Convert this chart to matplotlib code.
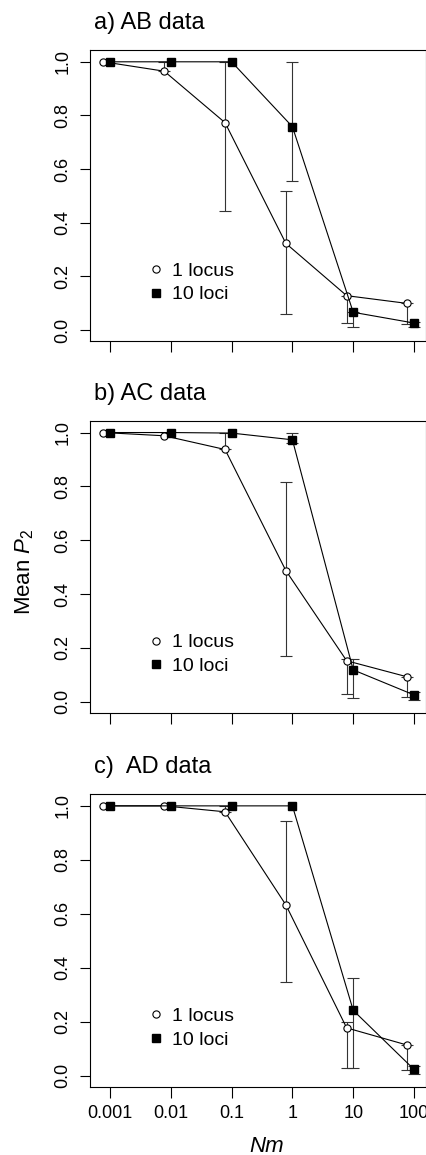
import numpy as np
import matplotlib
matplotlib.use('Agg')
import matplotlib.pyplot as plt
from matplotlib.lines import Line2D
from matplotlib.ticker import FixedLocator, NullLocator

plt.rcParams['font.family'] = ['Liberation Sans', 'DejaVu Sans']
plt.rcParams['mathtext.fontset'] = 'custom'
plt.rcParams['mathtext.rm'] = 'Liberation Sans'
plt.rcParams['mathtext.it'] = 'Liberation Sans:italic'

# Nm values (x axis)
nm = [0.001, 0.01, 0.1, 1, 10, 100]
nmLabels = ['0.001', '0.01', '0.1', '1', '10', '100']
titles = ['a) AB data', 'b) AC data', 'c)  AD data']

# a) AB data
oneA = [1.0, 0.965, 0.773, 0.323, 0.128, 0.099]
oneLoA = [1.0, 0.965, 0.445, 0.06, 0.027, 0.022]
oneHiA = [1.0, 1.0, 1.0, 0.52, 0.128, 0.099]
tenA = [1.0, 1.0, 1.0, 0.758, 0.066, 0.026]
tenLoA = [1.0, 1.0, 1.0, 0.554, 0.012, 0.01]
tenHiA = [1.0, 1.0, 1.0, 1.0, 0.066, 0.03]

# b) AC data
oneB = [1.0, 0.988, 0.937, 0.487, 0.152, 0.092]
oneLoB = [1.0, 0.988, 0.937, 0.168, 0.028, 0.016]
oneHiB = [1.0, 0.988, 1.0, 0.816, 0.16, 0.092]
tenB = [1.0, 1.0, 0.998, 0.973, 0.118, 0.025]
tenLoB = [1.0, 1.0, 0.998, 0.96, 0.013, 0.008]
tenHiB = [1.0, 1.0, 0.998, 1.0, 0.16, 0.035]

# c) AD data
oneC = [1.0, 1.0, 0.978, 0.633, 0.177, 0.113]
oneLoC = [1.0, 1.0, 0.978, 0.346, 0.03, 0.022]
oneHiC = [1.0, 1.0, 1.0, 0.944, 0.2, 0.113]
tenC = [1.0, 1.0, 1.0, 1.0, 0.242, 0.023]
tenLoC = [1.0, 1.0, 1.0, 1.0, 0.03, 0.006]
tenHiC = [1.0, 1.0, 1.0, 1.0, 0.362, 0.035]


def drawBars(ax, x, mean, lo, hi):
    """Draws error bars only where the interval has some length"""
    x = np.asarray(x, dtype=float)
    mean = np.asarray(mean)
    lo = np.asarray(lo)
    hi = np.asarray(hi)
    keep = (hi - lo) > 0.002
    ax.errorbar(x[keep], mean[keep], yerr=[mean[keep] - lo[keep], hi[keep] - mean[keep]],
                fmt='none', ecolor='#333333', elinewidth=0.8, capsize=4, capthick=0.8, zorder=2)


def plotPanel(ax, title, one, oneLo, oneHi, ten, tenLo, tenHi, showLabels):
    """Plots one panel: 1 locus (open circles, dodged left) and 10 loci (filled squares)"""
    xOne = np.array(nm) * 0.78
    drawBars(ax, xOne, one, oneLo, oneHi)
    drawBars(ax, nm, ten, tenLo, tenHi)
    ax.plot(xOne, one, '-', color='black', lw=0.8, marker='o', ms=5.2,
            mfc='white', mec='black', mew=0.8, zorder=3)
    ax.plot(nm, ten, '-', color='black', lw=0.8, marker='s', ms=6.4,
            mfc='black', mec='black', zorder=4)

    ax.set_xscale('log')
    ax.set_xlim(10 ** -3.329, 10 ** 2.197)
    ax.set_ylim(-0.041, 1.044)
    ax.xaxis.set_major_locator(FixedLocator(nm))
    ax.xaxis.set_minor_locator(NullLocator())
    if showLabels:
        ax.set_xticklabels(nmLabels)
    else:
        ax.set_xticklabels([])
    yt = [0.0, 0.2, 0.4, 0.6, 0.8, 1.0]
    ax.set_yticks(yt)
    ax.set_yticklabels(['%.1f' % v for v in yt], rotation=90, va='center')
    ax.tick_params(axis='x', length=8, width=0.8, labelsize=13, pad=5)
    ax.tick_params(axis='y', length=7.5, width=0.8, labelsize=13, pad=6)
    for s in ax.spines.values():
        s.set_linewidth(0.8)

    ax.text(0.012, 1.093, title, transform=ax.transAxes, fontsize=17,
            ha='left', va='center')

    handles = [Line2D([], [], ls='none', marker='o', ms=5.2, mfc='white', mec='black', mew=0.8),
               Line2D([], [], ls='none', marker='s', ms=5.5, mfc='black', mec='black')]
    ax.legend(handles, ['1 locus', '10 loci'], loc='center left', bbox_to_anchor=(0.173, 0.2),
              frameon=False, fontsize=14, handlelength=0.8, handletextpad=0.45,
              labelspacing=0.3, borderpad=0, borderaxespad=0)


fig = plt.figure(figsize=(4.27, 11.55), dpi=100)
left = 90 / 427
width = 336 / 427
axA = fig.add_axes([left, 1 - 341 / 1155, width, 291 / 1155])
axB = fig.add_axes([left, 1 - 712.7 / 1155, width, 292 / 1155])
axC = fig.add_axes([left, 1 - 1086.7 / 1155, width, 292.7 / 1155])

plotPanel(axA, titles[0], oneA, oneLoA, oneHiA, tenA, tenLoA, tenHiA, False)
plotPanel(axB, titles[1], oneB, oneLoB, oneHiB, tenB, tenLoB, tenHiB, False)
plotPanel(axC, titles[2], oneC, oneLoC, oneHiC, tenC, tenLoC, tenHiC, True)

fig.text(25 / 427, 1 - 572 / 1155, 'Mean $\\mathit{P}_2$', rotation=90,
         ha='center', va='center', fontsize=16)
fig.text(267 / 427, 1 - 1146 / 1155, 'Nm', fontstyle='italic',
         ha='center', va='center', fontsize=16)

fig.savefig('out.png', dpi=100)
